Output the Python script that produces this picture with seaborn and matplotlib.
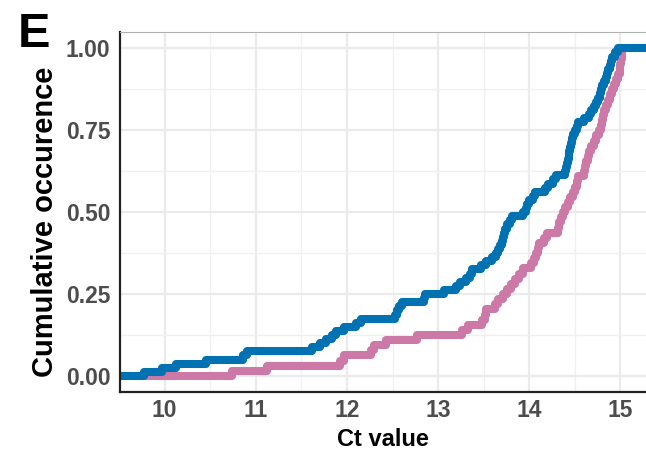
import numpy as np
import pandas as pd
import matplotlib
matplotlib.use("Agg")
import matplotlib.pyplot as plt
import seaborn as sns
from matplotlib.ticker import MultipleLocator

# Ct values
BLUE_CT = [
    9.77, 9.97, 10.12, 10.45, 10.86, 10.90, 11.62, 11.70, 11.77, 11.84,
    11.88, 11.97, 12.10, 12.15, 12.53, 12.55, 12.57, 12.60, 12.84, 12.86,
    13.06, 13.20, 13.24, 13.30, 13.35, 13.37, 13.47, 13.53, 13.59, 13.63,
    13.66, 13.68, 13.70, 13.71, 13.72, 13.73, 13.75, 13.79, 13.81, 13.93,
    13.96, 13.98, 14.00, 14.04, 14.06, 14.17, 14.20, 14.26, 14.29, 14.39,
    14.40, 14.41, 14.42, 14.43, 14.44, 14.45, 14.46, 14.47, 14.48, 14.50,
    14.52, 14.53, 14.60, 14.66, 14.68, 14.71, 14.73, 14.75, 14.77, 14.79,
    14.80, 14.82, 14.84, 14.85, 14.86, 14.88, 14.90, 14.91, 14.94, 14.97,
]
PINK_CT = [
    10.74, 11.12, 11.92, 11.97, 12.26, 12.30, 12.43, 12.77, 13.26, 13.33,
    13.48, 13.51, 13.53, 13.62, 13.66, 13.71, 13.75, 13.80, 13.84, 13.89,
    13.93, 14.02, 14.05, 14.07, 14.09, 14.11, 14.16, 14.19, 14.32, 14.33,
    14.35, 14.37, 14.39, 14.42, 14.45, 14.48, 14.50, 14.52, 14.53, 14.60,
    14.61, 14.62, 14.64, 14.66, 14.68, 14.71, 14.73, 14.76, 14.79, 14.80,
    14.81, 14.82, 14.84, 14.86, 14.89, 14.91, 14.93, 14.95, 14.97, 14.99,
    15.00, 15.01, 15.02, 15.02,
]
COLORS = {"blue": "#0072B2", "pink": "#CC79A7"}
X_TICKS = [10, 11, 12, 13, 14, 15]
Y_TICKS = [0.00, 0.25, 0.50, 0.75, 1.00]
X_LIM = (9.51, 15.28)
Y_LIM = (-0.049, 1.05)

sns.set_theme(style="white")
plt.rcParams["font.family"] = ["Liberation Sans", "DejaVu Sans"]

fig = plt.figure(figsize=(6.46, 4.5), dpi=100)
ax = fig.add_axes([120 / 646, 58 / 450, 526 / 646, 360 / 450])

# pink first so blue sits on top
for name, vals in [("pink", PINK_CT), ("blue", BLUE_CT)]:
    sns.ecdfplot(x=np.array(vals), ax=ax, color=COLORS[name], linewidth=5.8,
                 solid_capstyle="butt")

# stretch each step line to the panel edges, like stat_ecdf does
for line in ax.lines:
    x, y = line.get_data()
    x = np.asarray(x, dtype=float)
    y = np.asarray(y, dtype=float)
    x = np.where(np.isneginf(x), X_LIM[0], x)
    line.set_data(np.r_[x, X_LIM[1]], np.r_[y, y[-1]])

ax.set_xlim(*X_LIM)
ax.set_ylim(*Y_LIM)
ax.set_xticks(X_TICKS)
ax.set_yticks(Y_TICKS)
ax.set_yticklabels([f"{v:.2f}" for v in Y_TICKS])
ax.xaxis.set_minor_locator(MultipleLocator(0.5))
ax.yaxis.set_minor_locator(MultipleLocator(0.125))
ax.grid(which="major", color="#ebebeb", linewidth=1.6)
ax.grid(which="minor", color="#f0f0f0", linewidth=1.0)
ax.set_axisbelow(True)

ax.tick_params(which="both", length=0)
ax.tick_params(axis="x", pad=5, labelsize=16.5, labelcolor="#4d4d4d")
ax.tick_params(axis="y", pad=7, labelsize=16.5, labelcolor="#4d4d4d")
for lab in ax.get_xticklabels() + ax.get_yticklabels():
    lab.set_fontweight("bold")

for side in ["left", "bottom"]:
    ax.spines[side].set_color("#222222")
    ax.spines[side].set_linewidth(1.6)
ax.spines["top"].set_color("#b0b0b0")
ax.spines["top"].set_linewidth(0.8)
ax.spines["right"].set_visible(False)

ax.set_xlabel("")
ax.set_ylabel("")
fig.text(383 / 646, 4 / 450, "Ct value", fontsize=17, fontweight="bold",
         color="black", ha="center", va="baseline")
fig.text(45 / 646, 1 - 222 / 450, "Cumulative occurence", fontsize=21,
         fontweight="bold", color="black", rotation=90, ha="center", va="center")
fig.text(18 / 646, 1 - 12 / 450, "E", fontsize=35, fontweight="bold",
         color="black", ha="left", va="top")

fig.savefig("out.png", dpi=100)
